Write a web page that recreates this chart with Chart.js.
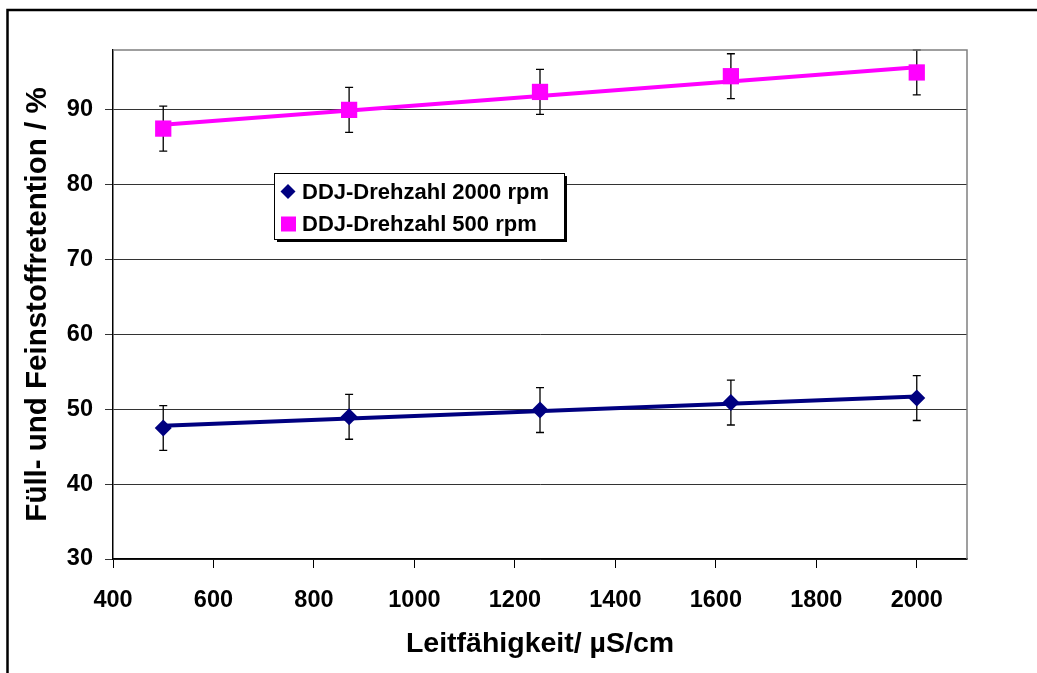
<!DOCTYPE html>
<html lang="de">
<head>
  <meta charset="UTF-8">
  <title>Füll- und Feinstoffretention</title>
  <script src="https://cdn.jsdelivr.net/npm/chart.js"></script>
  <style>
    html, body { margin: 0; padding: 0; background: #fff; }
    #chart { display: block; }
  </style>
</head>
<body>
  <canvas id="chart" width="1037" height="673"></canvas>
  <script>
    // values
    const leitfaehigkeit = [500, 870, 1250, 1630, 2000];
    const rpm2000 = [47.5, 49.0, 49.9, 50.9, 51.5];
    const rpm500 = [87.5, 90.0, 92.4, 94.5, 95.0];
    const err2000 = [3, 3, 3, 3, 3];
    const err500 = [3, 3, 3, 3, 3];
    // linear trend lines (end points)
    const trendX = [500, 2000];
    const trend2000 = [47.8, 51.7];
    const trend500 = [88.0, 95.7];

    const xTicks = [400, 600, 800, 1000, 1200, 1400, 1600, 1800, 2000];
    const yTicks = [30, 40, 50, 60, 70, 80, 90];
    const labels = ['DDJ-Drehzahl 2000 rpm', 'DDJ-Drehzahl 500 rpm'];

    const navy = '#000080';
    const pink = '#ff00ff';
    const FONT = 'Arial, "Liberation Sans", sans-serif';

    const toPoints = (xs, ys) => xs.map((x, i) => ({ x: x, y: ys[i] }));

    // error bars drawn under the markers
    const errorBars = {
      id: 'errorBars',
      beforeDatasetsDraw(chart) {
        const { ctx, scales: { x, y } } = chart;
        ctx.save();
        ctx.strokeStyle = '#000';
        ctx.lineWidth = 1.3;
        chart.data.datasets.forEach(ds => {
          if (!ds.errors) return;
          ds.data.forEach((p, i) => {
            const px = x.getPixelForValue(p.x);
            const top = y.getPixelForValue(p.y + ds.errors[i]);
            const bot = y.getPixelForValue(p.y - ds.errors[i]);
            ctx.beginPath();
            ctx.moveTo(px, top); ctx.lineTo(px, bot);
            ctx.moveTo(px - 4, top); ctx.lineTo(px + 4, top);
            ctx.moveTo(px - 4, bot); ctx.lineTo(px + 4, bot);
            ctx.stroke();
          });
        });
        ctx.restore();
      }
    };

    // frame, plot border and the boxed legend
    const decorations = {
      id: 'decorations',
      afterDraw(chart) {
        const { ctx, chartArea: a } = chart;
        ctx.save();
        // grey top/right border of the plot area
        ctx.strokeStyle = '#808080';
        ctx.lineWidth = 1.5;
        ctx.beginPath();
        ctx.moveTo(a.left, a.top); ctx.lineTo(a.right, a.top); ctx.lineTo(a.right, a.bottom);
        ctx.stroke();

        // outer frame (top and left only are visible)
        ctx.strokeStyle = '#000';
        ctx.lineWidth = 2.5;
        ctx.beginPath();
        ctx.moveTo(7.5, 673); ctx.lineTo(7.5, 10); ctx.lineTo(1037, 10);
        ctx.stroke();

        // legend box with shadow
        const bx = 274, by = 173, bw = 290, bh = 66;
        ctx.fillStyle = '#000';
        ctx.fillRect(bx + 3, by + 3, bw, bh);
        ctx.fillStyle = '#fff';
        ctx.fillRect(bx, by, bw, bh);
        ctx.strokeStyle = '#000';
        ctx.lineWidth = 1;
        ctx.strokeRect(bx + 0.5, by + 0.5, bw, bh);

        ctx.font = 'bold 22px ' + FONT;
        ctx.textBaseline = 'middle';
        ctx.textAlign = 'left';
        const rows = [191.5, 224];
        // diamond
        ctx.fillStyle = navy;
        ctx.beginPath();
        ctx.moveTo(288, rows[0] - 7.5); ctx.lineTo(295.5, rows[0]);
        ctx.lineTo(288, rows[0] + 7.5); ctx.lineTo(280.5, rows[0]);
        ctx.closePath(); ctx.fill();
        // square
        ctx.fillStyle = pink;
        ctx.fillRect(281, rows[1] - 7.5, 15, 15);

        ctx.fillStyle = '#000';
        ctx.fillText(labels[0], 302, rows[0] + 1);
        ctx.fillText(labels[1], 302, rows[1] + 1);
        ctx.restore();
      }
    };

    new Chart(document.getElementById('chart'), {
      type: 'scatter',
      data: {
        datasets: [
          {
            label: labels[0] + ' Trend',
            type: 'line',
            data: toPoints(trendX, trend2000),
            borderColor: navy,
            borderWidth: 4,
            pointRadius: 0,
            fill: false,
            order: 1
          },
          {
            label: labels[1] + ' Trend',
            type: 'line',
            data: toPoints(trendX, trend500),
            borderColor: pink,
            borderWidth: 4,
            pointRadius: 0,
            fill: false,
            order: 1
          },
          {
            label: labels[0],
            data: toPoints(leitfaehigkeit, rpm2000),
            errors: err2000,
            pointStyle: 'rectRot',
            pointRadius: 8.5,
            backgroundColor: navy,
            borderColor: navy,
            borderWidth: 0,
            order: 2
          },
          {
            label: labels[1],
            data: toPoints(leitfaehigkeit, rpm500),
            errors: err500,
            pointStyle: 'rect',
            pointRadius: 11.5,
            backgroundColor: pink,
            borderColor: pink,
            borderWidth: 0,
            order: 2
          }
        ]
      },
      options: {
        responsive: false,
        animation: false,
        layout: { padding: { top: 50, right: 70, left: 0, bottom: 0 } },
        plugins: {
          legend: { display: false },
          tooltip: { enabled: false }
        },
        scales: {
          x: {
            type: 'linear',
            min: 400,
            max: 2100,
            afterBuildTicks: s => { s.ticks = xTicks.map(v => ({ value: v })); },
            afterFit: s => { s.height = 114; },
            grid: { drawOnChartArea: false, drawTicks: true, tickLength: 9, color: '#000', lineWidth: 1 },
            border: { color: '#000', width: 1.5 },
            ticks: {
              color: '#000',
              padding: 18,
              maxRotation: 0,
              callback: v => String(v),
              font: { family: FONT, size: 23.5, weight: 'bold' }
            },
            title: {
              display: true,
              text: 'Leitfähigkeit/ µS/cm',
              color: '#000',
              padding: { top: 0, bottom: 12 },
              font: { family: FONT, size: 28.5, weight: 'bold' }
            }
          },
          y: {
            min: 30,
            max: 98,
            afterBuildTicks: s => { s.ticks = yTicks.map(v => ({ value: v })); },
            afterFit: s => { s.width = 113; },
            grid: { color: '#333', lineWidth: 1, tickLength: 8 },
            border: { color: '#000', width: 1.5 },
            ticks: {
              color: '#000',
              padding: 12,
              callback: v => String(v),
              font: { family: FONT, size: 23.5, weight: 'bold' }
            },
            title: {
              display: true,
              text: 'Füll- und Feinstoffretention / %',
              color: '#000',
              padding: { top: 20, bottom: 0 },
              font: { family: FONT, size: 29.5, weight: 'bold' }
            }
          }
        }
      },
      plugins: [errorBars, decorations]
    });
  </script>
</body>
</html>
